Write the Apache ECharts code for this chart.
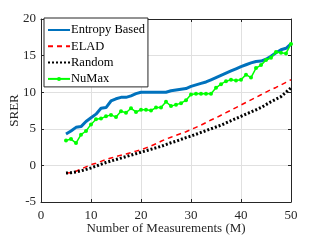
<!DOCTYPE html>
<html><head><meta charset="utf-8">
<script src="https://cdn.jsdelivr.net/npm/echarts@6/dist/echarts.min.js"></script>
<style>html,body{margin:0;padding:0;background:#fff}#c{width:322px;height:240px}</style>
</head><body><div id="c"></div>
<script>
const measurements = [5,6,7,8,9,10,11,12,13,14,15,16,17,18,19,20,21,22,23,24,25,26,27,28,29,30,31,32,33,34,35,36,37,38,39,40,41,42,43,44,45,46,47,48,49,50];
const entropyBased = [4.3,4.7,5.2,5.3,6.0,6.5,7.0,7.8,7.9,8.8,9.1,9.3,9.3,9.5,9.8,10.0,10.0,10.0,10.0,10.0,10.0,10.2,10.3,10.4,10.5,10.8,11.0,11.2,11.4,11.7,12.0,12.3,12.6,12.9,13.2,13.5,13.75,14.0,14.2,14.25,14.5,14.9,15.4,15.8,16.0,16.6];
const elad = [-1.05,-1.0,-0.8,-0.5,-0.2,0.1,0.3,0.55,0.8,1.0,1.2,1.4,1.55,1.75,1.95,2.15,2.4,2.65,2.95,3.3,3.6,3.85,4.1,4.35,4.6,4.9,5.2,5.5,5.85,6.2,6.5,6.85,7.2,7.55,7.9,8.25,8.6,8.95,9.3,9.65,10.0,10.35,10.65,11.0,11.35,11.7];
const random = [-1.05,-1.0,-0.9,-0.75,-0.55,-0.35,-0.1,0.15,0.4,0.6,0.8,1.0,1.2,1.4,1.6,1.8,2.0,2.2,2.4,2.6,2.85,3.1,3.3,3.55,3.8,4.0,4.25,4.5,4.75,5.0,5.25,5.5,5.8,6.1,6.4,6.7,7.0,7.3,7.6,7.9,8.3,8.7,9.05,9.4,10.0,10.6];
const numax = [3.4,3.6,3.05,4.2,4.7,5.6,6.3,6.4,6.7,6.9,6.6,7.4,7.2,7.8,7.3,7.6,7.6,7.5,7.9,7.9,8.7,8.1,8.3,8.5,8.9,9.7,9.8,9.8,9.8,9.8,10.6,11.1,11.5,11.7,11.6,11.7,12.4,12.0,13.3,13.7,14.4,14.7,15.5,15.4,15.3,16.6];
const xTicks = {min:0, max:50, interval:10};
const yTicks = {min:-5, max:20, interval:5};

const font = 'Liberation Serif';
const pairs = a => measurements.map((m,i)=>[m,a[i]]);
const chart = echarts.init(document.getElementById('c'), null, {renderer:'canvas'});
const axisCommon = {
  axisLine:{show:true,onZero:false,lineStyle:{color:'#262626',width:1}},
  axisTick:{show:true,inside:true,length:3,lineStyle:{color:'#262626'}},
  axisLabel:{color:'#262626',fontFamily:font,fontSize:13},
  splitLine:{show:true,lineStyle:{color:'#e0e0e0',width:1}}
};
const hidden = {opacity:0};
chart.setOption({
  animation:false,
  backgroundColor:'#fff',
  grid:{left:41,right:31,top:19,bottom:38,show:false,containLabel:false,outerBoundsMode:'none'},
  legend:{
    orient:'vertical', left:44, top:18,
    backgroundColor:'#fff', borderColor:'#262626', borderWidth:1,
    padding:[5,3,1,3], itemGap:2.3, itemWidth:22, itemHeight:5,
    textStyle:{fontFamily:font,fontSize:12.5,color:'#000',padding:[0,0,0,-4],lineHeight:14},
    data:[
      {name:'Entropy Based',itemStyle:hidden},
      {name:'ELAD',itemStyle:hidden},
      {name:'Random',itemStyle:hidden},
      {name:'NuMax'}
    ]
  },
  xAxis:[
    Object.assign({type:'value',position:'bottom',name:'Number of Measurements (M)',nameLocation:'middle',nameGap:20,nameMoveOverlap:false,
      nameTextStyle:{fontFamily:font,fontSize:13,color:'#262626'}}, xTicks, axisCommon,
      {axisLabel:Object.assign({},axisCommon.axisLabel,{margin:7})}),
    Object.assign({type:'value',position:'top'}, xTicks, axisCommon, {axisLabel:{show:false},splitLine:{show:false}})
  ],
  yAxis:[
    Object.assign({type:'value',position:'left',name:'SRER',nameLocation:'middle',nameGap:20,nameMoveOverlap:false,
      nameTextStyle:{fontFamily:font,fontSize:13,color:'#262626'}}, yTicks, axisCommon,
      {axisLabel:Object.assign({},axisCommon.axisLabel,{margin:5})}),
    Object.assign({type:'value',position:'right'}, yTicks, axisCommon, {axisLabel:{show:false},splitLine:{show:false}})
  ],
  series:[
    {name:'Entropy Based',type:'line',data:pairs(entropyBased),showSymbol:false,symbol:'none',
      lineStyle:{color:'#0072BD',width:3},itemStyle:{color:'#0072BD'},z:4},
    {name:'ELAD',type:'line',data:pairs(elad),symbol:'none',
      lineStyle:{color:'#FF0000',width:1.5,type:[5,4]},itemStyle:{color:'#FF0000'},z:3},
    {name:'Random',type:'line',data:pairs(random),symbol:'none',
      lineStyle:{color:'#000',width:3,type:[2,2]},itemStyle:{color:'#000'},z:3},
    {name:'NuMax',type:'line',data:pairs(numax),symbol:'circle',symbolSize:4,
      lineStyle:{color:'#00FF00',width:1.5},itemStyle:{color:'#00FF00'},z:5}
  ]
});
</script></body></html>
